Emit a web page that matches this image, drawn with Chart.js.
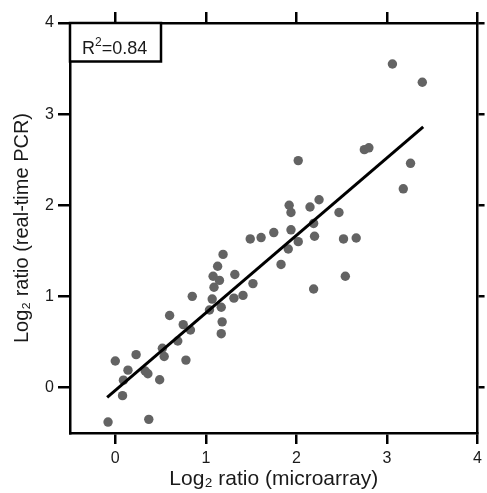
<!DOCTYPE html>
<html><head><meta charset="utf-8">
<script src="https://cdn.jsdelivr.net/npm/chart.js@4"></script>
<style>html,body{margin:0;padding:0;background:#fff}</style>
</head><body>
<canvas id="c" width="487" height="493" style="display:block"></canvas>
<script>
// ---- data ----
const xValues = [-0.08, 0.37, 0.00, 0.08, 0.09, 0.14, 0.23, 0.33, 0.36, 0.49,
                 0.52, 0.54, 0.60, 0.69, 0.75, 0.78, 0.83, 0.85, 1.04, 1.07,
                 1.08, 1.09, 1.13, 1.15, 1.19, 1.17, 1.18, 1.17, 1.32, 1.31,
                 1.41, 1.52, 1.49, 1.61, 1.75, 1.83, 1.91, 2.02, 2.02, 2.75,
                 2.80, 2.25, 2.15, 1.92, 1.94, 2.47, 2.19, 1.94, 2.20, 2.52,
                 2.66, 2.19, 2.54, 3.06, 3.39, 3.26, 3.18];
const yValues = [-0.38, -0.35, 0.29, -0.09, 0.08, 0.19, 0.36, 0.18, 0.15, 0.085,
                 0.43, 0.34, 0.79, 0.51, 0.69, 0.30, 0.63, 1.00, 0.85, 0.97,
                 1.22, 1.10, 1.33, 1.175, 1.46, 0.88, 0.72, 0.59, 1.24, 0.98,
                 1.01, 1.14, 1.63, 1.645, 1.70, 1.35, 1.52, 1.60, 2.49, 2.61,
                 2.63, 2.06, 1.98, 2.00, 1.92, 1.92, 1.80, 1.73, 1.66, 1.63,
                 1.64, 1.08, 1.22, 3.55, 3.35, 2.46, 2.18];
const fitX = [-0.09, 3.40];
const fitY = [-0.11, 2.86];
const tickValues = [0, 1, 2, 3, 4];
const axisMin = -0.5, axisMax = 4;
const xTitle = 'Log\u2082 ratio (microarray)';
const yTitle = 'Log\u2082 ratio (real-time PCR)';
const rLabelParts = ['R', '2', '=0.84'];   // R squared = 0.84

const FONT = '"Liberation Sans", Arial, Helvetica, sans-serif';
Chart.defaults.font.family = FONT;
Chart.defaults.color = '#1a1a1a';

function makeScale(position, size, tickLen, showLabels, title, titlePad, titleSize) {
  const horiz = position === 'top' || position === 'bottom';
  return {
    type: 'linear', position, min: axisMin, max: axisMax,
    afterBuildTicks: s => { s.ticks = tickValues.map(v => ({ value: v })); },
    afterFit: s => { if (horiz) s.height = size; else s.width = size; },
    grid: { display: true, drawOnChartArea: false, drawTicks: true, tickLength: tickLen,
            lineWidth: 2.5, tickWidth: 2.5, color: '#000', tickColor: '#000' },
    border: { display: true, width: 2.5, color: '#000' },
    ticks: { display: showLabels, font: { size: 16 }, color: '#1a1a1a', padding: horiz ? 5 : 4,
             maxRotation: 0, autoSkip: false },
    title: title ? { display: true, text: title, font: { size: titleSize }, color: '#1a1a1a', padding: titlePad } : { display: false }
  };
}

const rBoxPlugin = {
  id: 'rbox',
  afterDatasetsDraw(chart) {
    const { ctx, chartArea } = chart;
    const l = chartArea.left, t = chartArea.top;
    ctx.save();
    ctx.fillStyle = '#fff';
    ctx.strokeStyle = '#000';
    ctx.lineWidth = 2.5;
    ctx.fillRect(l, t, 91, 38.5);
    ctx.strokeRect(l, t, 91, 38.5);
    ctx.fillStyle = '#1a1a1a';
    ctx.textBaseline = 'alphabetic';
    ctx.textAlign = 'left';
    let x = l + 12;
    const base = t + 31;
    ctx.font = '18px ' + FONT;
    ctx.fillText(rLabelParts[0], x, base);
    x += ctx.measureText(rLabelParts[0]).width;
    ctx.font = '12px ' + FONT;
    ctx.fillText(rLabelParts[1], x, base - 8);
    x += ctx.measureText(rLabelParts[1]).width;
    ctx.font = '18px ' + FONT;
    ctx.fillText(rLabelParts[2], x, base);
    ctx.restore();
  }
};

new Chart(document.getElementById('c'), {
  type: 'scatter',
  data: {
    datasets: [
      { type: 'line', data: fitX.map((x, i) => ({ x, y: fitY[i] })), borderColor: '#000',
        borderWidth: 3, pointRadius: 0, fill: false, order: 0 },
      { data: xValues.map((x, i) => ({ x, y: yValues[i] })), backgroundColor: '#636363',
        borderWidth: 0, pointRadius: 4.7, pointHoverRadius: 4.7, order: 1 }
    ]
  },
  options: {
    responsive: false, animation: false,
    layout: { padding: 0 },
    plugins: { legend: { display: false }, tooltip: { enabled: false } },
    scales: {
      x: makeScale('bottom', 60, 11, true, xTitle, { top: 0, bottom: 1 }, 21),
      x2: makeScale('top', 23, 11, false),
      y: makeScale('left', 70, 12, true, yTitle, { top: 10, bottom: 0 }, 20),
      y2: makeScale('right', 7, 7, false)
    }
  },
  plugins: [rBoxPlugin]
});
</script>
</body></html>
